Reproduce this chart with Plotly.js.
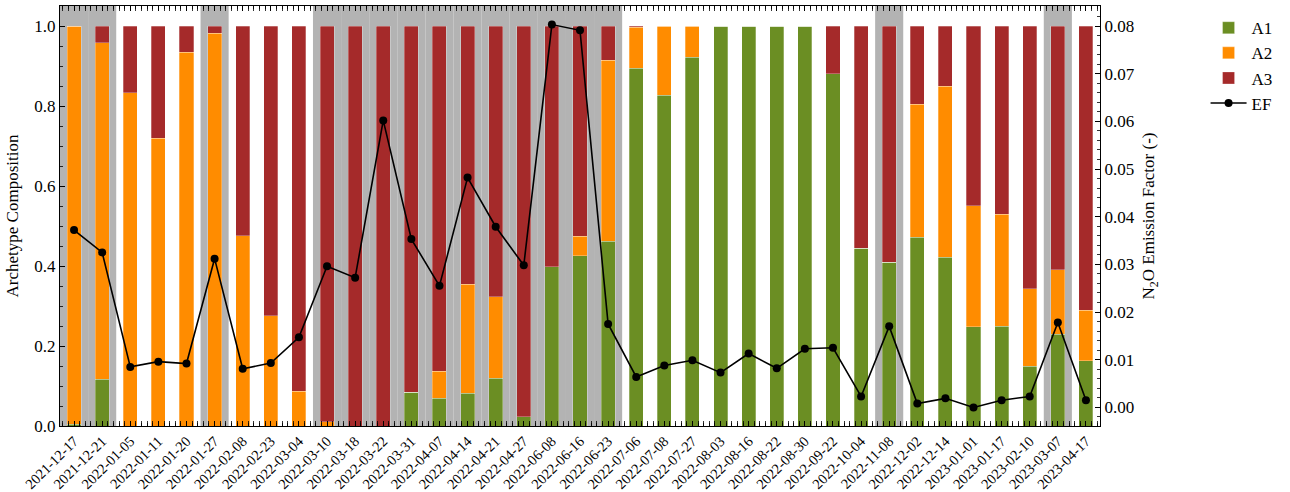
<!DOCTYPE html>
<html>
<head>
<meta charset="utf-8">
<script src="https://cdn.plot.ly/plotly-3.0.1.min.js"></script>
<style>
  html, body { margin: 0; padding: 0; background: #ffffff; }
  #chart { width: 1290px; height: 492px; }
</style>
</head>
<body>
<div id="chart"></div>
<script>
// Sampling dates
const dates = [
  '2021-12-17', '2021-12-21', '2022-01-05', '2022-01-11', '2022-01-20', '2022-01-27',
  '2022-02-08', '2022-02-23', '2022-03-04', '2022-03-10', '2022-03-18', '2022-03-22',
  '2022-03-31', '2022-04-07', '2022-04-14', '2022-04-21', '2022-04-27', '2022-06-08',
  '2022-06-16', '2022-06-23', '2022-07-06', '2022-07-08', '2022-07-27', '2022-08-03',
  '2022-08-16', '2022-08-22', '2022-08-30', '2022-09-22', '2022-10-04', '2022-11-08',
  '2022-12-02', '2022-12-14', '2023-01-01', '2023-01-17', '2023-02-10', '2023-03-07',
  '2023-04-17'
];

// Archetype fractions per date
const a1 = [
  0.005, 0.117, 0.000, 0.000, 0.000, 0.000,
  0.000, 0.000, 0.000, 0.000, 0.000, 0.000,
  0.084, 0.070, 0.082, 0.119, 0.023, 0.398,
  0.426, 0.462, 0.894, 0.827, 0.922, 1.000,
  1.000, 1.000, 1.000, 0.881, 0.444, 0.409,
  0.472, 0.422, 0.248, 0.250, 0.150, 0.229,
  0.163
];
const a2 = [
  0.995, 0.841, 0.833, 0.719, 0.935, 0.982,
  0.476, 0.276, 0.087, 0.011, 0.000, 0.000,
  0.000, 0.067, 0.272, 0.204, 0.000, 0.000,
  0.049, 0.453, 0.103, 0.173, 0.078, 0.000,
  0.000, 0.000, 0.000, 0.000, 0.000, 0.000,
  0.332, 0.428, 0.303, 0.279, 0.193, 0.162,
  0.127
];
const a3 = [
  0.000, 0.042, 0.167, 0.281, 0.065, 0.018,
  0.524, 0.724, 0.913, 0.989, 1.000, 1.000,
  0.916, 0.863, 0.646, 0.677, 0.977, 0.602,
  0.525, 0.085, 0.003, 0.000, 0.000, 0.000,
  0.000, 0.000, 0.000, 0.119, 0.556, 0.591,
  0.196, 0.150, 0.449, 0.471, 0.657, 0.609,
  0.710
];

// N2O emission factor per date
const ef = [
  0.0372, 0.0325, 0.0085, 0.0096, 0.0092, 0.0312,
  0.0081, 0.0093, 0.0147, 0.0296, 0.0272, 0.0602,
  0.0353, 0.0255, 0.0482, 0.0379, 0.0298, 0.0803,
  0.0791, 0.0175, 0.0064, 0.0088, 0.0099, 0.0073,
  0.0113, 0.0082, 0.0123, 0.0125, 0.0023, 0.0170,
  0.0008, 0.0019, 0.0000, 0.0015, 0.0023, 0.0178,
  0.0015
];

// Dates falling in highlighted periods
const shadedDates = [
  '2021-12-17', '2021-12-21', '2022-01-27',
  '2022-03-10', '2022-03-18', '2022-03-22', '2022-03-31', '2022-04-07', '2022-04-14',
  '2022-04-21', '2022-04-27', '2022-06-08', '2022-06-16', '2022-06-23',
  '2022-11-08', '2023-03-07'
];

const xi = dates.map((d, i) => i);
const FONT = 'Liberation Serif';
const edge = { color: 'rgba(255,255,255,0.35)', width: 0.8 };

const traces = [
  { type: 'bar', name: 'A1', x: xi, y: a1, width: 0.5, marker: { color: '#6b8e23', line: edge } },
  { type: 'bar', name: 'A2', x: xi, y: a2, width: 0.5, marker: { color: '#ff8c00', line: edge } },
  { type: 'bar', name: 'A3', x: xi, y: a3, width: 0.5, marker: { color: '#a52a2a', line: edge } },
  {
    type: 'scatter', mode: 'lines+markers', name: 'EF', x: xi, y: ef, yaxis: 'y2',
    line: { color: '#000000', width: 1.6 },
    marker: { color: '#000000', size: 8 }
  }
];

// Grey bands behind highlighted dates
const shapes = shadedDates.map(d => {
  const i = dates.indexOf(d);
  return {
    type: 'rect', layer: 'below', xref: 'x', yref: 'paper',
    x0: i - 0.5, x1: i + 0.5, y0: 0, y1: 1,
    fillcolor: '#b3b3b3', line: { width: 0 }
  };
});

const layout = {
  width: 1290, height: 492,
  margin: { l: 60, r: 190, t: 6, b: 66 },
  paper_bgcolor: '#ffffff', plot_bgcolor: '#ffffff',
  font: { family: FONT, color: '#000000', size: 17 },
  barmode: 'stack', bargap: 0,
  showlegend: true,
  legend: {
    x: 1.1015, y: 0.99, xanchor: 'left', yanchor: 'top',
    traceorder: 'normal', font: { family: FONT, size: 17 },
    bgcolor: 'rgba(0,0,0,0)', itemwidth: 36, tracegroupgap: 0
  },
  xaxis: {
    range: [-0.5, 36.5], tickmode: 'array', tickvals: xi, ticktext: dates,
    tickangle: -45, tickfont: { family: FONT, size: 14.5 },
    ticks: 'inside', ticklen: 5, tickwidth: 1, tickcolor: '#000',
    minor: { dtick: 0.2, tick0: 0, ticks: 'inside', ticklen: 3, tickwidth: 0.8, tickcolor: '#000' },
    showline: true, linecolor: '#000', linewidth: 1, mirror: 'allticks',
    showgrid: false, zeroline: false, automargin: false
  },
  yaxis: {
    range: [0, 1.05], tickmode: 'linear', tick0: 0, dtick: 0.2, tickformat: '.1f',
    tickfont: { family: FONT, size: 17 },
    ticks: 'inside', ticklen: 5, tickwidth: 1, tickcolor: '#000',
    minor: { dtick: 0.05, ticks: 'inside', ticklen: 3, tickwidth: 0.8, tickcolor: '#000' },
    showline: true, linecolor: '#000', linewidth: 1, mirror: false,
    showgrid: false, zeroline: false, automargin: false,
    title: { text: 'Archetype Composition', font: { family: FONT, size: 17 }, standoff: 11 }
  },
  yaxis2: {
    overlaying: 'y', side: 'right',
    range: [-0.0039, 0.0842], tickmode: 'linear', tick0: 0, dtick: 0.01, tickformat: '.2f',
    tickfont: { family: FONT, size: 17 },
    ticks: 'inside', ticklen: 5, tickwidth: 1, tickcolor: '#000',
    minor: { dtick: 0.002, ticks: 'inside', ticklen: 3, tickwidth: 0.8, tickcolor: '#000' },
    showline: true, linecolor: '#000', linewidth: 1,
    showgrid: false, zeroline: false, automargin: false,
    title: { text: 'N<sub>2</sub>O Emission Factor (-)', font: { family: FONT, size: 17 }, standoff: 8 }
  },
  shapes: shapes
};

Plotly.newPlot('chart', traces, layout, { displayModeBar: false, staticPlot: true });
</script>
</body>
</html>
